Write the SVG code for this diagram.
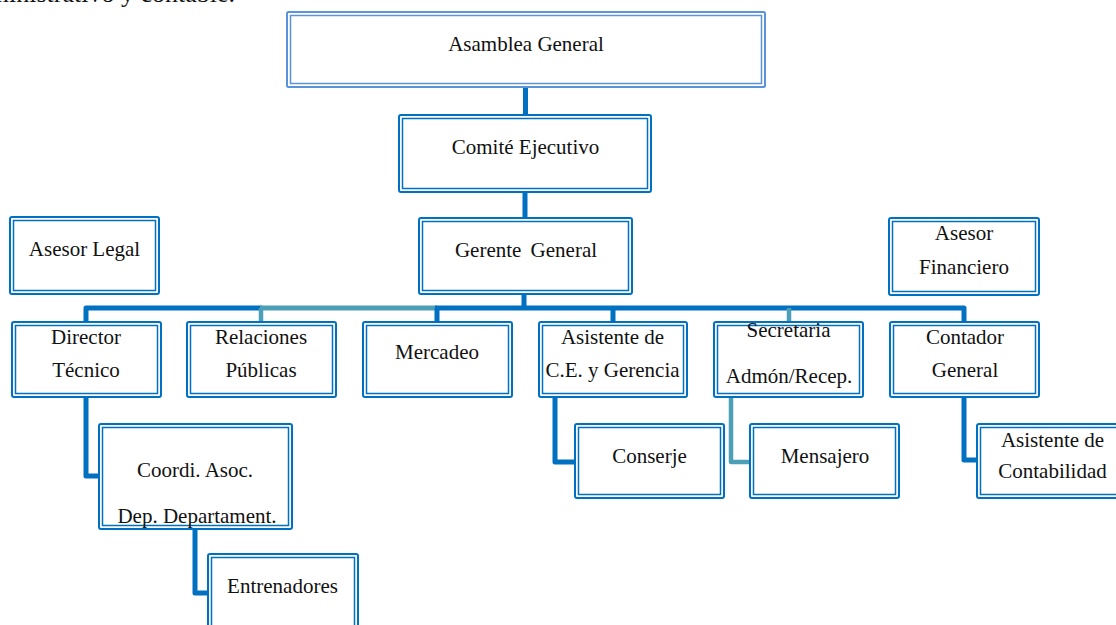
<svg xmlns="http://www.w3.org/2000/svg" width="1116" height="625" viewBox="0 0 1116 625">
  <style>
    .bg { fill: #ffffff; }
    .outer { fill: #ffffff; stroke: #0070C0; stroke-width: 2; }
    .inner { fill: none; stroke: #0070C0; stroke-width: 1.5; }
    .light .outer, .light .inner { stroke: #5B93DA; }
    .lbl { font-family: "Liberation Serif", "Times New Roman", serif; font-size: 21px; fill: #111111; text-anchor: middle; }
    .body { font-family: "Liberation Serif", "Times New Roman", serif; font-size: 26px; fill: #111111; text-anchor: end; }
    .c-dark { fill: none; stroke: #0070C0; stroke-width: 5; stroke-linejoin: round; stroke-linecap: butt; }
    .c-teal { fill: none; stroke: #4BA0B8; stroke-width: 4.5; stroke-linejoin: round; stroke-linecap: butt; }
  </style>

  <rect class="bg" x="0" y="0" width="1116" height="625"/>

  <!-- running text of the page, clipped at the top edge -->
  <text class="body" x="235" y="1.5">administrativo y contable.</text>

  <!-- connectors -->
  <g id="connectors">
    <path class="c-dark" d="M525.5 87 V115"/>
    <path class="c-dark" d="M525 192 V218"/>
    <path class="c-dark" d="M524 294 V308"/>
    <!-- horizontal bus -->
    <path class="c-dark" d="M86 322 V308 H262"/>
    <path class="c-teal" d="M260 308 H437" style="stroke-width:5"/>
    <path class="c-dark" d="M435 308 H964 V322"/>
    <!-- drops to the second row -->
    <path class="c-teal" d="M261 308 V322"/>
    <path class="c-dark" d="M437 308 V322"/>
    <path class="c-dark" d="M613 308 V322"/>
    <path class="c-teal" d="M789 308 V322"/>
    <!-- elbows to the lower levels -->
    <path class="c-dark" d="M86 397 V476 H99"/>
    <path class="c-dark" d="M195 529 V593 H208"/>
    <path class="c-dark" d="M555 397 V462 H575"/>
    <path class="c-teal" d="M731 397 V462 H750"/>
    <path class="c-dark" d="M964 397 V460 H977"/>
  </g>

  <g id="asamblea-general" class="light">
    <rect class="outer" x="287" y="12" width="478" height="75" rx="1.5"/>
    <rect class="inner" x="290.5" y="15.5" width="471" height="68"/>
    <text class="lbl" x="526" y="51">Asamblea General</text>
  </g>

  <g id="comite-ejecutivo">
    <rect class="outer" x="399" y="115" width="252" height="77" rx="2"/>
    <rect class="inner" x="402.5" y="118.5" width="245" height="70"/>
    <text class="lbl" x="525.5" y="154">Comité Ejecutivo</text>
  </g>

  <g id="gerente-general">
    <rect class="outer" x="419" y="218" width="213" height="76" rx="2"/>
    <rect class="inner" x="422.5" y="221.5" width="206" height="69"/>
    <text class="lbl" x="526" y="257" word-spacing="4">Gerente General</text>
  </g>

  <g id="asesor-legal">
    <rect class="outer" x="10" y="217" width="149" height="77" rx="2"/>
    <rect class="inner" x="13.5" y="220.5" width="142" height="70"/>
    <text class="lbl" x="84.5" y="256">Asesor Legal</text>
  </g>

  <g id="asesor-financiero">
    <rect class="outer" x="889" y="218" width="150" height="77" rx="2"/>
    <rect class="inner" x="892.5" y="221.5" width="143" height="70"/>
    <text class="lbl" x="964" y="240">Asesor</text>
    <text class="lbl" x="964" y="274">Financiero</text>
  </g>

  <g id="director-tecnico">
    <rect class="outer" x="12" y="322" width="149" height="75" rx="2"/>
    <rect class="inner" x="15.5" y="325.5" width="142" height="68"/>
    <text class="lbl" x="86" y="344">Director</text>
    <text class="lbl" x="86" y="377">Técnico</text>
  </g>

  <g id="relaciones-publicas">
    <rect class="outer" x="187" y="322" width="149" height="75" rx="2"/>
    <rect class="inner" x="190.5" y="325.5" width="142" height="68"/>
    <text class="lbl" x="261" y="344">Relaciones</text>
    <text class="lbl" x="261" y="377">Públicas</text>
  </g>

  <g id="mercadeo">
    <rect class="outer" x="363" y="322" width="149" height="75" rx="2"/>
    <rect class="inner" x="366.5" y="325.5" width="142" height="68"/>
    <text class="lbl" x="437" y="359">Mercadeo</text>
  </g>

  <g id="asistente-ce-gerencia">
    <rect class="outer" x="539" y="322" width="148" height="75" rx="2"/>
    <rect class="inner" x="542.5" y="325.5" width="141" height="68"/>
    <text class="lbl" x="612.5" y="344">Asistente de</text>
    <text class="lbl" x="612.5" y="377">C.E. y Gerencia</text>
  </g>

  <g id="secretaria">
    <rect class="outer" x="714" y="322" width="149" height="75" rx="2"/>
    <rect class="inner" x="717.5" y="325.5" width="142" height="68"/>
    <text class="lbl" x="788.5" y="337">Secretaria</text>
    <text class="lbl" x="789" y="383">Admón/Recep.</text>
  </g>

  <g id="contador-general">
    <rect class="outer" x="890" y="322" width="149" height="75" rx="2"/>
    <rect class="inner" x="893.5" y="325.5" width="142" height="68"/>
    <text class="lbl" x="965" y="344">Contador</text>
    <text class="lbl" x="965" y="377">General</text>
  </g>

  <g id="coordinador-asociaciones">
    <rect class="outer" x="99" y="424" width="193" height="105" rx="2"/>
    <rect class="inner" x="102.5" y="427.5" width="186" height="98"/>
    <text class="lbl" x="195" y="477">Coordi. Asoc.</text>
    <text class="lbl" x="197" y="523">Dep. Departament.</text>
  </g>

  <g id="entrenadores">
    <rect class="outer" x="208" y="554" width="150" height="82" rx="2"/>
    <rect class="inner" x="211.5" y="557.5" width="143" height="75"/>
    <text class="lbl" x="282.5" y="593">Entrenadores</text>
  </g>

  <g id="conserje">
    <rect class="outer" x="575" y="424" width="149" height="74" rx="2"/>
    <rect class="inner" x="578.5" y="427.5" width="142" height="67"/>
    <text class="lbl" x="649.5" y="463">Conserje</text>
  </g>

  <g id="mensajero">
    <rect class="outer" x="750" y="424" width="149" height="74" rx="2"/>
    <rect class="inner" x="753.5" y="427.5" width="142" height="67"/>
    <text class="lbl" x="825" y="463">Mensajero</text>
  </g>

  <g id="asistente-contabilidad">
    <rect class="outer" x="977" y="424" width="149" height="74" rx="2"/>
    <rect class="inner" x="980.5" y="427.5" width="142" height="67"/>
    <text class="lbl" x="1052.5" y="447">Asistente de</text>
    <text class="lbl" x="1052.5" y="478">Contabilidad</text>
  </g>
</svg>
